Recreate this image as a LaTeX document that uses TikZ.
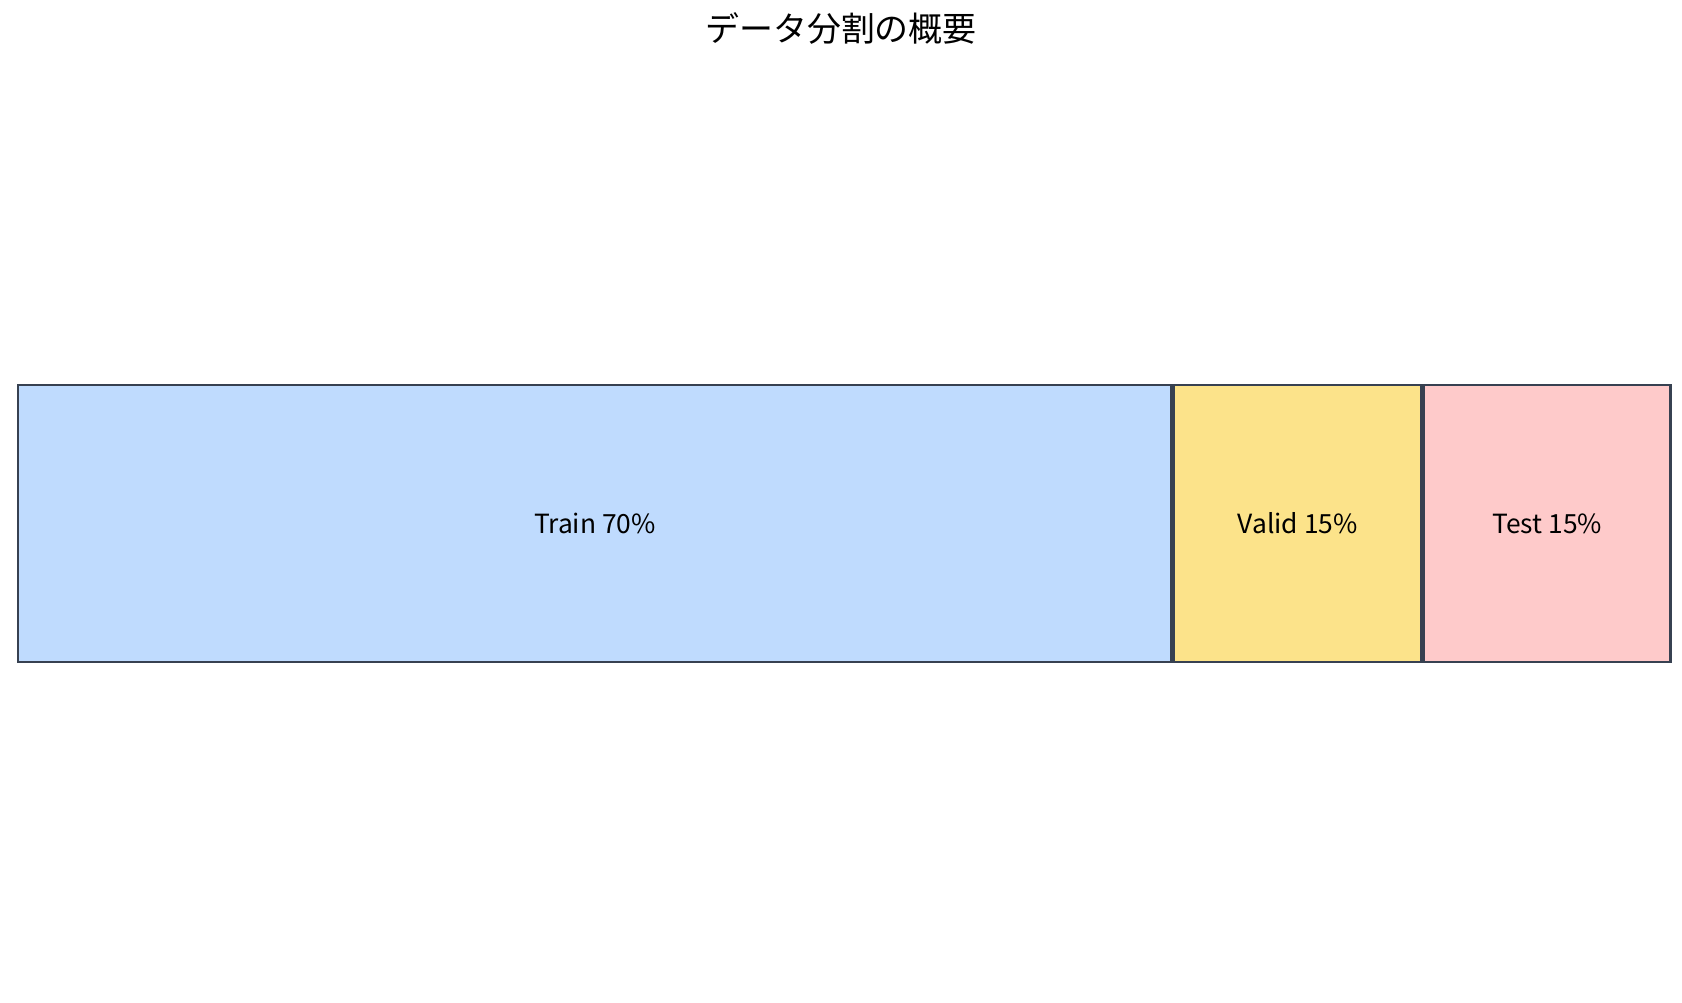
\documentclass[tikz,border=0pt]{standalone}
\usepackage{fontspec}
\setmainfont{Noto Sans CJK JP}
\usetikzlibrary{positioning}
\definecolor{edgegray}{HTML}{374151}
\definecolor{trainblue}{HTML}{BFDBFE}
\definecolor{validyellow}{HTML}{FCE38A}
\definecolor{testred}{HTML}{FECACA}
\tikzset{
  part/.style={draw=edgegray,line width=1.2pt,anchor=south west,inner sep=0pt,
    minimum height=5.16cm,font=\fontsize{14}{16}\selectfont}
}
\begin{document}
\begin{tikzpicture}
    \useasboundingbox (0,0) rectangle (31.36,18.7);

    \node[part,fill=trainblue,minimum width=21.5cm] (train) at (0.32,6.34) {Train 70\%};
    \node[part,fill=validyellow,minimum width=4.62cm,anchor=west] (valid) at (train.east) {Valid 15\%};
    \node[part,fill=testred,minimum width=4.6cm,anchor=west] (test) at (valid.east) {Test 15\%};

    \node[font=\fontsize{18}{20}\selectfont] (title) at (15.68,18.16) {データ分割の概要};
\end{tikzpicture}
\end{document}
